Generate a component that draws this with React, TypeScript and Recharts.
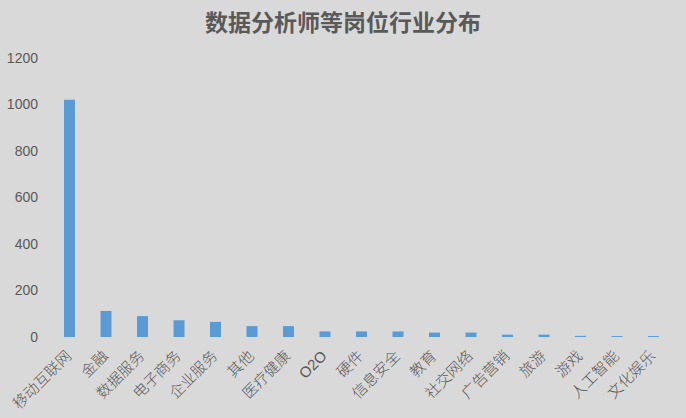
import React from "react";
import { BarChart, Bar, XAxis, YAxis } from "recharts";

const categories = [
  "移动互联网", "金融", "数据服务", "电子商务", "企业服务", "其他", "医疗健康", "O2O",
  "硬件", "信息安全", "教育", "社交网络", "广告营销", "旅游", "游戏", "人工智能", "文化娱乐",
];
const counts = [1020, 112, 90, 72, 65, 47, 47, 24, 24, 24, 19, 19, 10, 10, 5, 4, 4];
const yTicks = [0, 200, 400, 600, 800, 1000, 1200];
const title = "数据分析师等岗位行业分布";

const data = categories.map((name, i) => ({ name, value: counts[i] }));

const FONT = "'Liberation Sans', 'Noto Sans CJK SC', sans-serif";

const XTick = (props: any) => {
  const { x, y, payload } = props;
  const ax = x + 3;
  const ay = y + 20;
  return (
    <text
      x={ax}
      y={ay}
      transform={`rotate(-45, ${ax}, ${ay})`}
      textAnchor="end"
      fill="#595959"
      fontSize={15}
      fontWeight={300}
      fontFamily={FONT}
    >
      {payload.value}
    </text>
  );
};

export default function App() {
  return (
    <div style={{ position: "absolute", left: 0, top: 0, width: 686, height: 418, background: "#d9d9d9" }}>
      <div
        style={{
          position: "absolute",
          left: 0,
          top: 8,
          width: 686,
          textAlign: "center",
          fontFamily: FONT,
          fontSize: 23,
          fontWeight: "bold",
          color: "#595959",
          lineHeight: "30px",
        }}
      >
        {title}
      </div>
      <BarChart
        width={686}
        height={418}
        data={data}
        margin={{ top: 58, right: 14.5, bottom: 0, left: 0 }}
        barCategoryGap={0}
      >
        <XAxis
          dataKey="name"
          interval={0}
          axisLine={false}
          tickLine={false}
          tickSize={0}
          tickMargin={0}
          height={81}
          tick={<XTick />}
        />
        <YAxis
          domain={[0, 1200]}
          ticks={yTicks}
          axisLine={false}
          tickLine={false}
          width={51}
          tickMargin={7}
          tick={{ fill: "#595959", fontSize: 14, fontFamily: FONT }}
        />
        <Bar dataKey="value" fill="#5b9bd5" barSize={11} isAnimationActive={false} />
      </BarChart>
    </div>
  );
}
